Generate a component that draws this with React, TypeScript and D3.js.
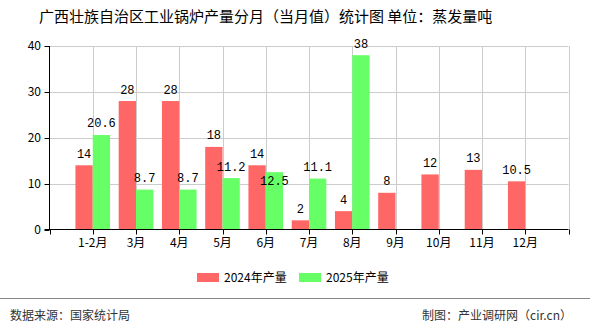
import React from "react";
import * as d3 from "d3";

const title = "广西壮族自治区工业锅炉产量分月（当月值）统计图 单位：蒸发量吨";
const months = ["1-2月", "3月", "4月", "5月", "6月", "7月", "8月", "9月", "10月", "11月", "12月"];
const values2024 = [14, 28, 28, 18, 14, 2, 4, 8, 12, 13, 10.5];
const values2025: (number | null)[] = [20.6, 8.7, 8.7, 11.2, 12.5, 11.1, 38, null, null, null, null];
const yTicks = [0, 10, 20, 30, 40];
const seriesNames = ["2024年产量", "2025年产量"];
const colors = ["#ff6666", "#66ff66"];

const W = 590;
const H = 330;
const left = 49.5;
const right = 568.5;
const top = 46;
const bottom = 229.5;
const font = "'Noto Sans CJK SC', sans-serif";
const monoFont = "'Liberation Mono', monospace";

export default function App() {
  var x = d3.scaleLinear().domain([0, months.length + 1]).range([left, right]);
  var y = d3.scaleLinear().domain([0, 40]).range([bottom, top]);
  var barW = 17.3;
  var gridX = d3.range(0, months.length + 2);

  const labels: any[] = [];
  months.forEach((m, i) => {
    const cx = x(i + 1);
    const v1 = values2024[i];
    const redLabel = { x: cx - barW / 2, y: y(v1) - 12, text: String(v1) };
    labels.push(redLabel);
    const v2 = values2025[i];
    if (v2 != null) {
      let ly = y(v2) - 12;
      const t = String(v2);
      const gx = cx + barW / 2;
      // simple overlap check with the red label
      const rw = redLabel.text.length * 7;
      const gw = t.length * 7;
      const overlapX = Math.abs(gx - redLabel.x) < (rw + gw) / 2;
      const overlapY = Math.abs(ly - redLabel.y) < 13;
      if (overlapX && overlapY) ly = redLabel.y + 27;
      labels.push({ x: gx, y: ly, text: t });
    }
  });

  return (
    <svg width={W} height={H} style={{ position: "absolute", left: 0, top: 0, background: "#fff" }}>
      <text x={39} y={22} fontFamily={font} fontSize={15} fill="#000">{title}</text>

      {yTicks.map(t => (
        <g key={"y" + t}>
          {t > 0 && <line x1={left} x2={right} y1={Math.round(y(t)) + 0.5} y2={Math.round(y(t)) + 0.5} stroke="#cccccc" />}
          <line x1={left - 5} x2={left} y1={Math.round(y(t)) + 0.5} y2={Math.round(y(t)) + 0.5} stroke="#000" />
          <text x={41} y={y(t) + 4} textAnchor="end" fontFamily={font} fontSize={12}>{t}</text>
        </g>
      ))}
      {gridX.map(g => (
        <g key={"x" + g}>
          {g > 0 && <line x1={Math.round(x(g)) + 0.5} x2={Math.round(x(g)) + 0.5} y1={top} y2={bottom} stroke="#cccccc" />}
          <line x1={Math.round(x(g)) + 0.5} x2={Math.round(x(g)) + 0.5} y1={bottom} y2={bottom + 5} stroke="#000" />
        </g>
      ))}

      {months.map((m, i) => (
        <g key={m}>
          <rect x={x(i + 1) - barW} y={y(values2024[i])} width={barW} height={bottom - y(values2024[i])} fill={colors[0]} />
          {values2025[i] != null && (
            <rect x={x(i + 1)} y={y(values2025[i] as number)} width={barW} height={bottom - y(values2025[i] as number)} fill={colors[1]} />
          )}
          <text x={x(i + 1)} y={247} textAnchor="middle" fontFamily={font} fontSize={12}>{m}</text>
        </g>
      ))}

      {labels.map((l, i) => (
        <text key={"l" + i} x={l.x} y={l.y + 4.5} textAnchor="middle" fontFamily={monoFont} fontSize={12} fill="#000">{l.text}</text>
      ))}

      <line x1={left} x2={left} y1={top} y2={bottom} stroke="#000" />
      <line x1={left - 5} x2={right} y1={bottom} y2={bottom} stroke="#000" />

      {seriesNames.map((s, i) => (
        <g key={s} transform={`translate(${197 + i * 102},273)`}>
          <rect x={0} y={0} width={22} height={9} fill={colors[i]} />
          <text x={27} y={9} fontFamily={font} fontSize={12}>{s}</text>
        </g>
      ))}

      <line x1={0} x2={W} y1={298.5} y2={298.5} stroke="#888" />
      <text x={10} y={320} fontFamily={font} fontSize={12} fill="#333">数据来源：国家统计局</text>
      <text x={572} y={320} textAnchor="end" fontFamily={font} fontSize={12} fill="#333">制图：产业调研网（cir.cn）</text>
    </svg>
  );
}
